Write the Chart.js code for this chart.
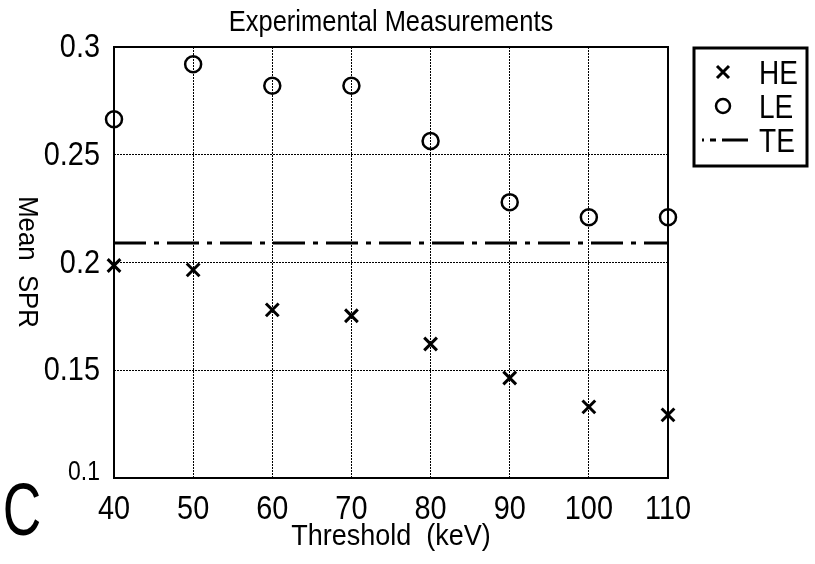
<!DOCTYPE html>
<html>
<head>
<meta charset="utf-8">
<script src="https://cdn.jsdelivr.net/npm/chart.js@4"></script>
<style>
  html, body { margin: 0; padding: 0; background: #fff; }
  #wrap { width: 815px; height: 564px; position: relative; }
</style>
</head>
<body>
<div id="wrap"><canvas id="sprChart"></canvas></div>
<script>
// Values
const thresholds = [40, 50, 60, 70, 80, 90, 100, 110];
const heValues = [0.1986, 0.1966, 0.178, 0.1753, 0.1622, 0.1464, 0.133, 0.1293];
const leValues = [0.2665, 0.292, 0.282, 0.282, 0.2564, 0.228, 0.221, 0.221];
const teValue = 0.209;
const xTicks = [40, 50, 60, 70, 80, 90, 100, 110];
const yTicks = [0.1, 0.15, 0.2, 0.25, 0.3];

// no narrow font installed, so Liberation Sans gets squeezed sideways
const FONT = '"Liberation Sans", Arial, sans-serif';
const teDash = [32, 8, 5, 8];

function drawText(ctx, text, x, y, size, sx, align) {
  ctx.save();
  ctx.translate(x, y);
  ctx.scale(sx, 1);
  ctx.font = size + 'px ' + FONT;
  ctx.textAlign = align || 'center';
  ctx.textBaseline = 'alphabetic';
  ctx.fillText(text, 0, 0);
  ctx.restore();
}

const extras = {
  id: 'extras',
  beforeDatasetsDraw(chart) {
    const { ctx, chartArea: a } = chart;
    ctx.save();
    ctx.strokeStyle = '#000';
    ctx.lineWidth = 2;
    ctx.strokeRect(a.left, a.top, a.right - a.left, a.bottom - a.top);
    ctx.restore();
  },
  afterDraw(chart) {
    const { ctx, chartArea: a } = chart;
    const xs = chart.scales.x, ys = chart.scales.y;
    ctx.save();
    ctx.fillStyle = '#000';
    const mid = (a.left + a.right) / 2;

    // tick labels, placed by the scales
    xs.ticks.forEach(t => drawText(ctx, String(t.value), xs.getPixelForValue(t.value), 519, 34, 0.85));
    ys.ticks.forEach((t, i) => {
      const size = i === 0 ? 27 : 34;
      const shift = i === 0 ? -8 : -2;
      drawText(ctx, String(t.value), 100, ys.getPixelForValue(t.value) + shift + size * 0.36, size, 0.85, 'right');
    });

    drawText(ctx, 'Experimental Measurements', mid, 31, 30, 0.85);
    drawText(ctx, 'Threshold  (keV)', mid, 545, 30, 0.9);

    ctx.save();
    ctx.translate(19, 262);
    ctx.rotate(Math.PI / 2);
    drawText(ctx, 'Mean  SPR', 0, 0, 28, 0.92);
    ctx.restore();

    drawText(ctx, 'C', 22, 535, 74, 0.72);

    // legend
    const bx = 694, by = 48, bw = 113, bh = 118;
    ctx.lineWidth = 3;
    ctx.strokeStyle = '#000';
    ctx.strokeRect(bx, by, bw, bh);
    const rows = [72, 106, 140];
    ['HE', 'LE', 'TE'].forEach((t, i) => drawText(ctx, t, 759, rows[i] + 12, 33, 0.85, 'left'));

    ctx.lineWidth = 3;
    ctx.beginPath();
    ctx.moveTo(717, rows[0] - 6); ctx.lineTo(729, rows[0] + 6);
    ctx.moveTo(729, rows[0] - 6); ctx.lineTo(717, rows[0] + 6);
    ctx.stroke();

    ctx.lineWidth = 2.5;
    ctx.beginPath();
    ctx.arc(723, rows[1], 7, 0, Math.PI * 2);
    ctx.stroke();

    ctx.lineWidth = 3;
    ctx.beginPath();
    ctx.moveTo(702, rows[2]); ctx.lineTo(704, rows[2]);
    ctx.moveTo(710, rows[2]); ctx.lineTo(716, rows[2]);
    ctx.moveTo(722, rows[2]); ctx.lineTo(748, rows[2]);
    ctx.stroke();
    ctx.restore();
  }
};

const chart = new Chart(document.getElementById('sprChart'), {
  type: 'scatter',
  data: {
    datasets: [{
      label: 'HE',
      data: thresholds.map((x, i) => ({ x: x, y: heValues[i] })),
      pointStyle: 'crossRot',
      pointRadius: 9,
      pointBorderWidth: 3,
      borderColor: '#000',
      backgroundColor: '#000',
      showLine: false,
      clip: false
    }, {
      label: 'LE',
      data: thresholds.map((x, i) => ({ x: x, y: leValues[i] })),
      pointStyle: 'circle',
      pointRadius: 8,
      pointBorderWidth: 2.5,
      borderColor: '#000',
      backgroundColor: 'rgba(0,0,0,0)',
      showLine: false,
      clip: false
    }, {
      label: 'TE',
      data: [{ x: thresholds[0], y: teValue }, { x: thresholds[thresholds.length - 1], y: teValue }],
      showLine: true,
      borderColor: '#000',
      borderWidth: 3,
      borderDash: teDash,
      pointRadius: 0,
      fill: false
    }]
  },
  options: {
    responsive: true,
    maintainAspectRatio: false,
    animation: false,
    layout: { padding: { left: 0, right: 147, top: 47, bottom: 0 } },
    plugins: {
      legend: { display: false },
      title: { display: false },
      tooltip: { enabled: false }
    },
    scales: {
      x: {
        type: 'linear',
        min: 40,
        max: 110,
        afterBuildTicks: s => { s.ticks = xTicks.map(v => ({ value: v })); },
        afterFit: s => { s.height = 86; },
        grid: { color: '#000', lineWidth: 1, drawTicks: false },
        border: { display: false, dash: [2, 1] },
        ticks: { display: false }
      },
      y: {
        min: 0.1,
        max: 0.3,
        afterBuildTicks: s => { s.ticks = yTicks.map(v => ({ value: v })); },
        afterFit: s => { s.width = 114; },
        grid: { color: '#000', lineWidth: 1, drawTicks: false },
        border: { display: false, dash: [2, 1] },
        ticks: { display: false }
      }
    }
  },
  plugins: [extras]
});
</script>
</body>
</html>
